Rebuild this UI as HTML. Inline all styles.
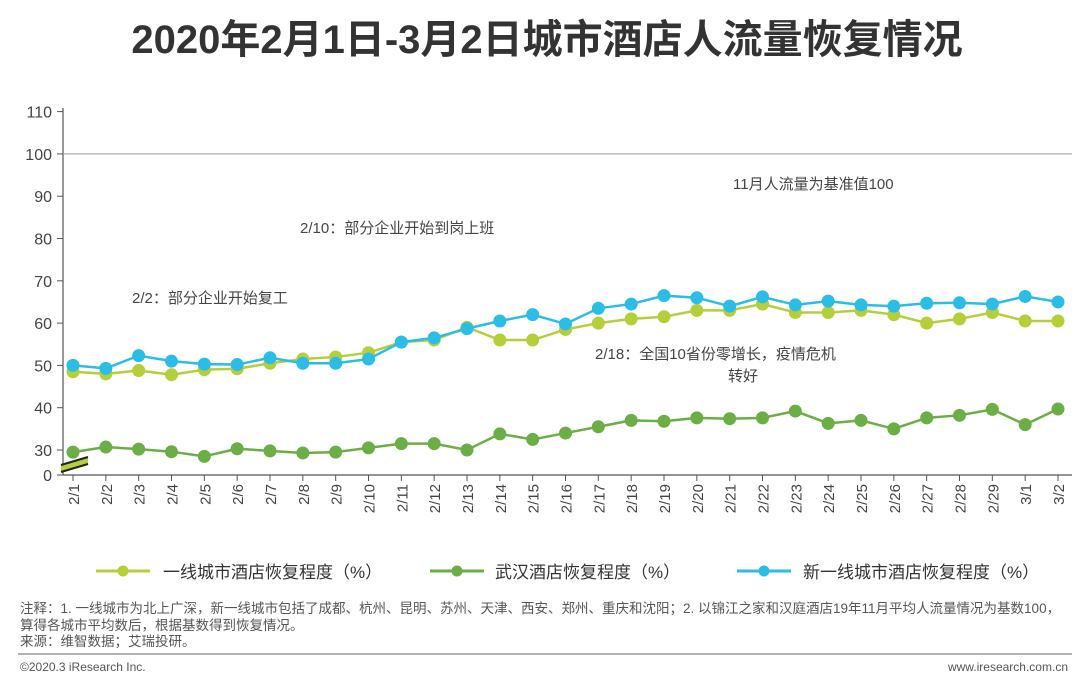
<!DOCTYPE html>
<html><head><meta charset="utf-8"><style>
body{margin:0;background:#fff;width:1080px;height:685px;overflow:hidden;font-family:"Liberation Sans","Noto Sans CJK SC",sans-serif}
svg text{font-family:"Liberation Sans","Noto Sans CJK SC",sans-serif}
</style></head><body>
<svg id="c" width="1080" height="685">
<text x="547" y="53" text-anchor="middle" font-size="40" font-weight="bold" fill="#333">2020年2月1日-3月2日城市酒店人流量恢复情况</text>
<g id="ax"></g><g id="ser"></g>
<text x="733" y="189" font-size="15" fill="#444">11月人流量为基准值100</text>
<text x="300" y="233" font-size="15" fill="#444">2/10：部分企业开始到岗上班</text>
<text x="132" y="303" font-size="15" fill="#444">2/2：部分企业开始复工</text>
<text x="595" y="359" font-size="15" fill="#444">2/18：全国10省份零增长，疫情危机</text>
<text x="743" y="381" font-size="15" fill="#444" text-anchor="middle">转好</text>
<g>
<line x1="96" y1="571" x2="150" y2="571" stroke="#b5cf3a" stroke-width="3"/><circle cx="123" cy="571" r="5.5" fill="#b5cf3a"/>
<text x="163" y="578" font-size="17" fill="#333">一线城市酒店恢复程度（%）</text>
<line x1="430" y1="571" x2="484" y2="571" stroke="#6aae45" stroke-width="3"/><circle cx="457" cy="571" r="5.5" fill="#6aae45"/>
<text x="495" y="578" font-size="17" fill="#333">武汉酒店恢复程度（%）</text>
<line x1="737" y1="571" x2="791" y2="571" stroke="#2bbde6" stroke-width="3"/><circle cx="764" cy="571" r="5.5" fill="#2bbde6"/>
<text x="803" y="578" font-size="17" fill="#333">新一线城市酒店恢复程度（%）</text>
</g>
<g font-size="13.5" fill="#555">
<text x="20" y="613">注释：1. 一线城市为北上广深，新一线城市包括了成都、杭州、昆明、苏州、天津、西安、郑州、重庆和沈阳；2. 以锦江之家和汉庭酒店19年11月平均人流量情况为基数100，</text>
<text x="20" y="630">算得各城市平均数后，根据基数得到恢复情况。</text>
<text x="20" y="646">来源：维智数据；艾瑞投研。</text>
</g>
<line x1="18" y1="654" x2="1072" y2="654" stroke="#666" stroke-width="1"/>
<text x="20" y="671" font-size="12" fill="#555">©2020.3 iResearch Inc.</text>
<text x="1068" y="671" font-size="12" fill="#555" text-anchor="end">www.iresearch.com.cn</text>
</svg>
<script>
const dates=["2/1","2/2","2/3","2/4","2/5","2/6","2/7","2/8","2/9","2/10","2/11","2/12","2/13","2/14","2/15","2/16","2/17","2/18","2/19","2/20","2/21","2/22","2/23","2/24","2/25","2/26","2/27","2/28","2/29","3/1","3/2"];
const tier1=[48.5,48,48.8,47.8,49,49.2,50.5,51.5,52,53,55.5,56,59,56,56,58.5,60,61,61.5,63,63,64.5,62.5,62.5,63,62,60,61,62.5,60.5,60.5];
const wuhan=[29.5,30.7,30.2,29.6,28.5,30.3,29.8,29.3,29.5,30.5,31.5,31.5,30,33.8,32.5,34,35.5,37,36.8,37.6,37.4,37.6,39.2,36.3,37,35,37.6,38.2,39.6,36,39.7];
const newTier1=[50,49.3,52.3,51,50.3,50.2,51.8,50.5,50.5,51.5,55.5,56.5,58.7,60.5,62,59.8,63.5,64.5,66.5,66,64,66.2,64.3,65.2,64.3,64,64.7,64.8,64.5,66.3,65];
const yTicks=[0,30,40,50,60,70,80,90,100,110];
const NS="http://www.w3.org/2000/svg";
function x(i){return 73+i*(1058-73)/(dates.length-1);}
function y(v){return v>=25?450-(v-30)*4.23:475-v*(25/30);}
function mk(t,a,p){const e=document.createElementNS(NS,t);for(const k in a)e.setAttribute(k,a[k]);(p||document.getElementById('ax')).appendChild(e);return e;}
const yl=mk('line',{x1:63,y1:108,x2:63,y2:475,stroke:'#555','stroke-width':1.2});


const xl=mk('line',{x1:63,y1:475,x2:1072,y2:475,stroke:'#555','stroke-width':1.2});


const gl=mk('line',{x1:63,y1:y(100),x2:1072,y2:y(100),stroke:'#999','stroke-width':1});


yTicks.forEach(v=>{mk('line',{x1:57,y1:y(v),x2:63,y2:y(v),stroke:'#555'});
const t=mk('text',{x:52,y:y(v)+6,'text-anchor':'end','font-size':16,fill:'#444'});t.textContent=v;

});
const br=mk('polygon',{points:'61,465 88,457 88,464 61,472',fill:'#b5cf3a'});


mk('line',{x1:61,y1:465,x2:88,y2:457,stroke:'#222','stroke-width':2});
mk('line',{x1:61,y1:472,x2:88,y2:464,stroke:'#222','stroke-width':2});
dates.forEach((d,i)=>{mk('line',{x1:x(i),y1:475,x2:x(i),y2:481,stroke:'#555'});
const t=mk('text',{x:0,y:0,transform:`translate(${x(i)+6},484) rotate(-90)`,'text-anchor':'end','font-size':15,fill:'#444'});t.textContent=d;

});
const ser=document.getElementById('ser');
[[tier1,'#b5cf3a','series-tier1'],[wuhan,'#6aae45','series-wuhan'],[newTier1,'#2bbde6','series-new-tier1']].forEach(([arr,c,n])=>{
const g=mk('g',{},ser);


mk('polyline',{points:arr.map((v,i)=>x(i)+','+y(v)).join(' '),fill:'none',stroke:c,'stroke-width':2.5},g);
arr.forEach((v,i)=>{const p=mk('circle',{cx:x(i),cy:y(v),r:6.5,fill:c},g);

});
});
</script>
</body></html>
